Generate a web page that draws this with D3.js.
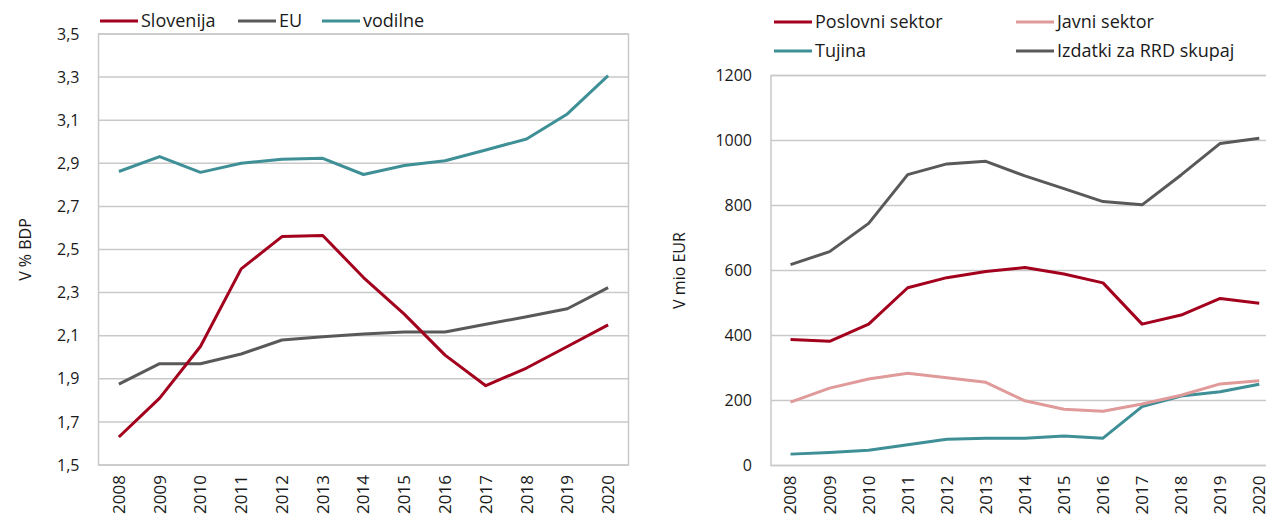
<!DOCTYPE html>
<html><head><meta charset="utf-8">
<script src="https://cdn.jsdelivr.net/npm/d3@7"></script>
<style>
body{margin:0;background:#fff;}
svg{display:block;}
text{font-family:"Open Sans",sans-serif;fill:#1a1a1a;}
</style></head>
<body>
<svg id="c" width="1266" height="517"></svg>
<script>
const years = ["2008","2009","2010","2011","2012","2013","2014","2015","2016","2017","2018","2019","2020"];
// Left chart: R&D expenditure, % of GDP
const slovenija = [1.63,1.81,2.05,2.41,2.56,2.565,2.37,2.20,2.01,1.868,1.95,2.05,2.15];
const eu        = [1.875,1.97,1.97,2.015,2.08,2.095,2.108,2.117,2.117,2.153,2.188,2.225,2.323];
const vodilne   = [2.862,2.931,2.858,2.900,2.919,2.923,2.848,2.890,2.912,2.962,3.013,3.129,3.307];
const leftTicks = [1.5,1.7,1.9,2.1,2.3,2.5,2.7,2.9,3.1,3.3,3.5];
// Right chart: million EUR
const poslovni  = [388,382,435,547,578,597,609,589,562,435,463,514,499];
const javni     = [195,238,266,284,270,256,199,173,167,189,216,251,261];
const tujina    = [35,40,47,64,81,84,84,91,84,181,214,227,250];
const skupaj    = [618,658,745,895,928,936,891,852,812,802,894,991,1007];
const rightTicks = [0,200,400,600,800,1000,1200];

const C_RED="#A3001E", C_GREY="#595959", C_TEAL="#3E8F96", C_PINK="#E09A9A", C_GRID="#C9C9C9";
const svg = d3.select("#c");
const fmt = d => d3.format(".1f")(d).replace(".", ",");

function panel(o){
  const g = svg.append("g");
  const x = d3.scaleBand().domain(years).range([o.left,o.right]);
  const y = d3.scaleLinear().domain(o.domain).range([o.bottom,o.top]);
  // gridlines
  g.append("g").selectAll("line").data(o.ticks).join("line")
    .attr("x1",o.left).attr("x2",o.right).attr("y1",d=>y(d)).attr("y2",d=>y(d))
    .attr("stroke",C_GRID).attr("stroke-width",1.5);
  // frame
  g.append("rect").attr("x",o.left).attr("y",o.top).attr("width",o.right-o.left).attr("height",o.bottom-o.top)
    .attr("fill","none").attr("stroke",C_GRID).attr("stroke-width",1.5);
  // y axis labels
  const ya = d3.axisLeft(y).tickValues(o.ticks).tickSize(0).tickPadding(19).tickFormat(o.fmt);
  const yg = g.append("g").attr("transform",`translate(${o.left},0)`).call(ya);
  yg.select(".domain").remove();
  yg.selectAll("text").style("font-size","16px").style("font-family","Open Sans").attr("fill","#1a1a1a");
  // x axis labels
  const xa = d3.axisBottom(x).tickSize(0).tickPadding(0);
  const xg = g.append("g").attr("transform",`translate(0,${o.bottom})`).call(xa);
  xg.select(".domain").remove();
  xg.selectAll("text").style("font-size","17px").style("font-family","Open Sans").attr("fill","#1a1a1a")
    .attr("transform","rotate(-90)").attr("text-anchor","end").attr("x",-10).attr("y",0).attr("dy","0.35em");
  // axis title
  g.append("text").attr("transform",`translate(${o.titleX},${(o.top+o.bottom)/2}) rotate(-90)`)
    .attr("text-anchor","middle").style("font-size","16px").text(o.title);
  // lines
  const line = d3.line().x((d,i)=>x(years[i])+x.bandwidth()/2).y(d=>y(d));
  o.series.forEach(s=>{
    g.append("path").datum(s.values).attr("d",line).attr("fill","none")
      .attr("stroke",s.color).attr("stroke-width",3).attr("stroke-linejoin","round");
  });
  // legend
  o.legend.forEach(l=>{
    g.append("line").attr("x1",l.x).attr("x2",l.x+38).attr("y1",l.y).attr("y2",l.y)
      .attr("stroke",l.color).attr("stroke-width",3);
    g.append("text").attr("x",l.x+41).attr("y",l.y).attr("dy","0.35em").style("font-size","18px").text(l.name);
  });
}

panel({left:98.5,right:628.5,top:34,bottom:465,domain:[1.5,3.5],ticks:leftTicks,fmt:fmt,
  title:"V % BDP",titleX:31,
  series:[{values:eu,color:C_GREY},{values:vodilne,color:C_TEAL},{values:slovenija,color:C_RED}],
  legend:[{x:100,y:21,color:C_RED,name:"Slovenija"},{x:238,y:21,color:C_GREY,name:"EU"},{x:322,y:21,color:C_TEAL,name:"vodilne"}]
});
panel({left:771,right:771+13*39.06,top:75.5,bottom:465.5,domain:[0,1200],ticks:rightTicks,fmt:d3.format("d"),
  title:"V mio EUR",titleX:685,
  series:[{values:skupaj,color:C_GREY},{values:tujina,color:C_TEAL},{values:javni,color:C_PINK},{values:poslovni,color:C_RED}],
  legend:[{x:774,y:22,color:C_RED,name:"Poslovni sektor"},{x:1016,y:22,color:C_PINK,name:"Javni sektor"},
          {x:774,y:51,color:C_TEAL,name:"Tujina"},{x:1016,y:51,color:C_GREY,name:"Izdatki za RRD skupaj"}]
});
</script>
</body></html>
